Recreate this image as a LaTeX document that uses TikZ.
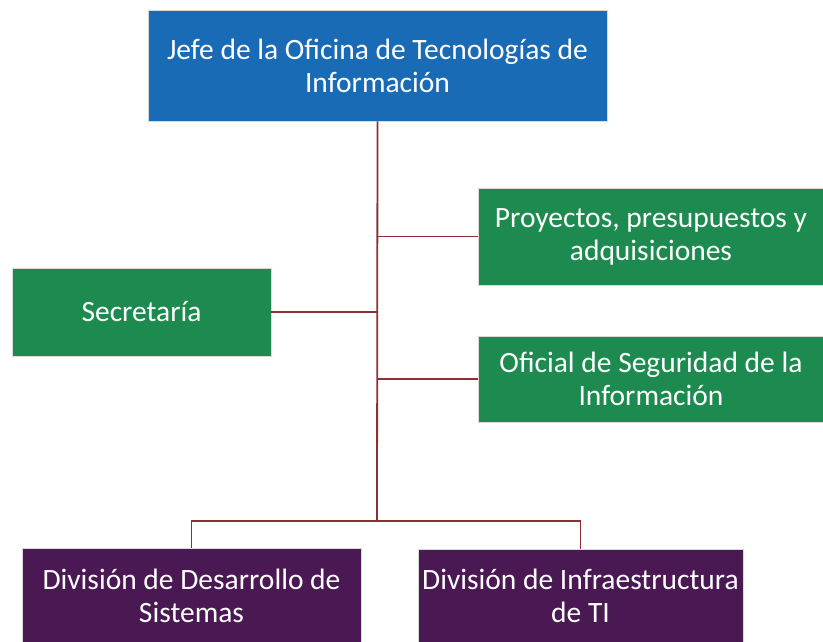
\documentclass[tikz,border=0pt]{standalone}
\usepackage{fontspec}
\setmainfont{Carlito}
\definecolor{boxblue}{HTML}{1A6BB5}
\definecolor{boxgreen}{HTML}{1D8B4F}
\definecolor{boxpurple}{HTML}{4A1953}
\definecolor{linkred}{HTML}{8E2F33}
\begin{document}
\begin{tikzpicture}[x=1pt,y=-1pt,
  box/.style={draw=white!85!black,line width=0.6pt,text=white,align=center,inner sep=0pt,
    font=\fontsize{29.5}{33}\selectfont},
  boxtext/.style={text=white,align=center,font=\fontsize{29.5}{33}\selectfont},
  link/.style={draw=linkred,line width=1.8pt}]
\useasboundingbox (0,0) rectangle (823,642);
\clip (0,0) rectangle (823,642);
\node[box,fill=boxblue,minimum width=459pt,minimum height=111pt] (jefe) at (377.5,65.5)
  {Jefe de la Oficina de Tecnologías de\\Información};
\node[box,fill=boxgreen,minimum width=346pt,minimum height=97pt] (proy) at (651,236.5)
  {Proyectos, presupuestos y\\adquisiciones};
\node[box,fill=boxgreen,minimum width=259pt,minimum height=88pt] (sec) at (141.5,312)
  {Secretaría};
\node[box,fill=boxgreen,minimum width=346pt,minimum height=86pt] (ofic) at (651,379)
  {Oficial de Seguridad de la\\Información};
\node[box,fill=boxpurple,minimum width=339pt,minimum height=130pt,anchor=north] (desa) at (191.5,548) {};
\node[boxtext] (desat) at (191.5,596) {División de Desarrollo de\\Sistemas};
\node[box,fill=boxpurple,minimum width=325pt,minimum height=130pt,anchor=north] (infra) at (580.5,549) {};
\node[boxtext] (infrat) at (580.5,596) {División de Infraestructura\\de TI};
\coordinate (trunk) at (377,521);
\draw[link] (jefe.south) -- (trunk);
\draw[link] (proy.west) -- (proy.west -| trunk);
\draw[link] (ofic.west) -- (ofic.west -| trunk);
\draw[link] (sec.east) -- (sec.east -| trunk);
\draw[link] (desa.north) |- (trunk) -| (infra.north);
\end{tikzpicture}
\end{document}
